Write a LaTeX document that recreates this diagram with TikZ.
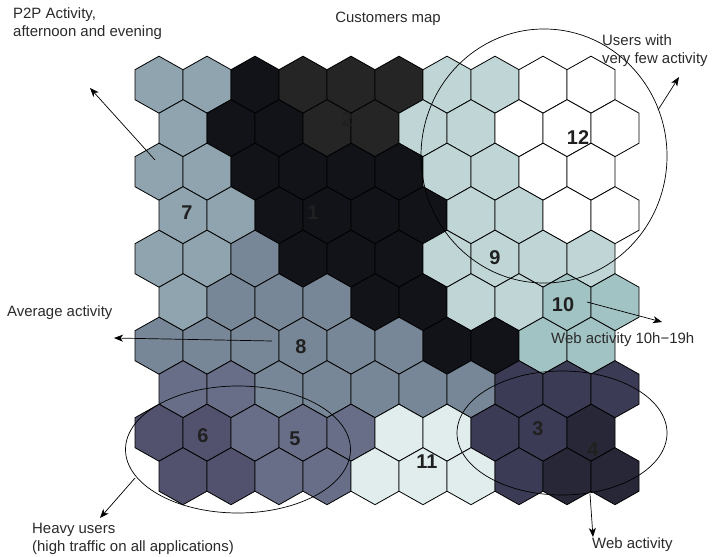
\documentclass[tikz,border=0pt]{standalone}
\usepackage{fontspec}
\setmainfont{Liberation Sans}
\usetikzlibrary{arrows.meta}

% cluster palette
\definecolor{hA}{HTML}{8FA4AE}
\definecolor{hD}{HTML}{121319}
\definecolor{hG}{HTML}{252525}
\definecolor{hT}{HTML}{C0D6D6}
\definecolor{hW}{HTML}{FFFFFF}
\definecolor{hQ}{HTML}{A2C3C3}
\definecolor{hS}{HTML}{778797}
\definecolor{hL}{HTML}{686E87}
\definecolor{hP}{HTML}{52526F}
\definecolor{hE}{HTML}{E1ECEC}
\definecolor{hN}{HTML}{3C3B55}
\definecolor{hK}{HTML}{272737}
\definecolor{txt}{HTML}{2A2A2A}
\definecolor{tagc}{HTML}{202020}

\begin{document}
\begin{tikzpicture}[x=1bp,y=-1bp,
  cell/.style={draw=black, line width=0.8bp, line join=miter},
  ring/.style={draw=black, line width=0.7bp},
  pointer/.style={draw=black, line width=0.7bp, -{Stealth[length=9bp,width=7bp,inset=2.5bp]}},
  note/.style={text=txt, font=\fontsize{15}{18}\selectfont, inner sep=0pt, align=left},
  tag/.style={text=tagc, font=\fontsize{20}{22}\selectfont\bfseries, inner sep=0pt}]
\useasboundingbox (0,0) rectangle (712,557);
\fill[white] (0,0) rectangle (712,557);

% hexagonal map, 10 x 10 cells, odd rows flush left
\foreach \r/\row in {
  1/{A,A,D,G,G,G,T,T,W,W},
  2/{A,D,D,G,G,T,T,W,W,W},
  3/{A,A,D,D,D,D,T,T,W,W},
  4/{A,A,D,D,D,D,T,T,W,W},
  5/{A,A,S,D,D,D,T,T,T,T},
  6/{A,S,S,S,D,D,T,T,Q,Q},
  7/{S,S,S,S,S,S,D,D,Q,Q},
  8/{L,L,S,S,S,S,S,N,N,N},
  9/{P,P,L,L,L,E,E,N,N,K},
  10/{P,P,L,L,E,E,E,N,K,K}}{
  \foreach \k [count=\c] in \row {
    \pgfmathsetmacro\cx{159+48*(\c-1)+24*(1-mod(\r,2))}
    \pgfmathsetmacro\cy{84.7+43.5*(\r-1)}
    \path[cell, fill=h\k] (\cx,\cy) ++(0,-28.5) -- ++(24,13.5) -- ++(0,30)
      -- ++(-24,13.5) -- ++(-24,-13.5) -- ++(0,-30) -- cycle;
  }
}

% cluster numbers
\node[tag] (c1)  at (313,213) {1};
\node[tag] (c2)  at (347,120) {2};
\node[tag] (c3)  at (538,429) {3};
\node[tag] (c4)  at (593,450) {4};
\node[tag] (c5)  at (295,439) {5};
\node[tag] (c6)  at (203,436) {6};
\node[tag] (c7)  at (187,213) {7};
\node[tag] (c8)  at (301,347) {8};
\node[tag] (c9)  at (495,258) {9};
\node[tag] (c10) at (563,305) {10};
\node[tag] (c11) at (427,462) {11};
\node[tag] (c12) at (578,138) {12};

% groupings
\draw[ring] (544,156) ellipse [x radius=123, y radius=127];
\draw[ring] (562,433) ellipse [x radius=105, y radius=62];
\draw[ring] (238,449.5) ellipse [x radius=112.5, y radius=63.5];

% captions
\node[note] (title) at (388,19) {Customers map};
\node[note, anchor=west] (p2p) at (13,24) {P2P Activity,\\afternoon and evening};
\node[note, anchor=west] (few) at (602,51) {Users with\\very few activity};
\node[note, anchor=west] (avg) at (7,313) {Average activity};
\node[note, anchor=west] (web10) at (551,340) {Web activity 10h−19h};
\node[note, anchor=west] (web) at (592,545) {Web activity};
\node[note, anchor=west] (heavy) at (32,538.5) {Heavy users\\(high traffic on all applications)};

% pointers
\coordinate (p2pFrom) at (155,160);
\coordinate (p2pTo) at (90,88);
\coordinate (fewFrom) at (658,110);
\coordinate (fewTo) at (679,77);
\coordinate (avgFrom) at (272,341);
\coordinate (avgTo) at (114,338);
\coordinate (w10From) at (587,302);
\coordinate (w10To) at (662,322);
\coordinate (webFrom) at (590,494);
\coordinate (webTo) at (593,537);
\coordinate (hvFrom) at (135,478);
\coordinate (hvTo) at (100,518);
\draw[pointer] (p2pFrom) -- (p2pTo);
\draw[pointer] (fewFrom) -- (fewTo);
\draw[pointer] (avgFrom) -- (avgTo);
\draw[pointer] (w10From) -- (w10To);
\draw[pointer] (webFrom) -- (webTo);
\draw[pointer] (hvFrom) -- (hvTo);
\end{tikzpicture}
\end{document}
